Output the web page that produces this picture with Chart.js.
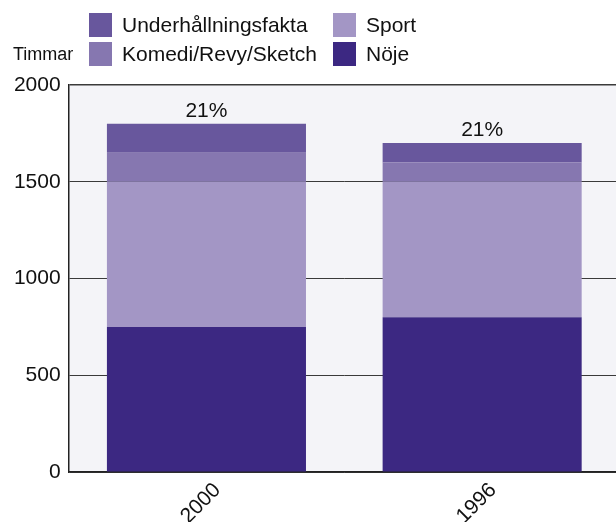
<!DOCTYPE html>
<html lang="sv">
<head>
<meta charset="utf-8">
<script src="https://cdn.jsdelivr.net/npm/chart.js@4/dist/chart.umd.min.js"></script>
<style>
    html, body { margin: 0; padding: 0; background: #fff; overflow: hidden; }
    #wrap { position: relative; width: 616px; height: 522px; overflow: hidden; font-family: "Liberation Sans", Arial, sans-serif; color: #111; }
    #chart { position: absolute; left: 0; top: 0; }
    #unit { position: absolute; left: 13px; top: 44px; font-size: 18px; }
    #legend { position: absolute; left: 89px; top: 13px; display: grid; grid-template-columns: 244px auto; grid-template-rows: 29px 29px; grid-auto-flow: column; }
    .item { display: flex; align-items: flex-start; font-size: 21px; }
    .box { width: 23px; height: 24px; margin-right: 10px; flex: none; }
    .item span { line-height: 24px; }
</style>
</head>
<body>
<div id="wrap">
    <canvas id="chart" width="620" height="522"></canvas>
    <div id="unit">Timmar</div>
    <div id="legend"></div>
</div>
<script>
// Timmar per år, staplat nerifrån och upp
const years = ['2000', '1996'];
const noje = [750, 800];
const sport = [750, 700];
const komedi = [150, 100];
const underhallning = [150, 100];
const shareLabels = ['21%', '21%'];
const yTicks = [0, 500, 1000, 1500, 2000];

const seriesNames = ['Nöje', 'Sport', 'Komedi/Revy/Sketch', 'Underhållningsfakta'];
const seriesColors = ['#3c2882', '#a396c5', '#8677b0', '#68579d'];
const seriesData = [noje, sport, komedi, underhallning];

const FONT = '"Liberation Sans", Arial, sans-serif';

// Grå bakgrund i plotytan
const plotBackground = {
    id: 'plotBackground',
    beforeDraw(chart) {
        const { ctx, chartArea: a } = chart;
        ctx.save();
        ctx.fillStyle = '#f4f4f8';
        ctx.fillRect(a.left, a.top, a.right - a.left, a.bottom - a.top);
        ctx.restore();
    }
};

// Procenttext ovanför varje stapel
const shareText = {
    id: 'shareText',
    afterDatasetsDraw(chart) {
        const { ctx } = chart;
        const meta = chart.getDatasetMeta(chart.data.datasets.length - 1);
        ctx.save();
        ctx.font = '21px ' + FONT;
        ctx.fillStyle = '#111';
        ctx.textAlign = 'center';
        ctx.textBaseline = 'alphabetic';
        meta.data.forEach((bar, i) => {
            ctx.fillText(shareLabels[i], bar.x, bar.y - 7);
        });
        ctx.restore();
    }
};

const datasets = seriesNames.map((name, i) => ({
    label: name,
    data: seriesData[i],
    backgroundColor: seriesColors[i],
    borderWidth: 0,
    categoryPercentage: 1,
    barPercentage: 0.722
}));

const chart = new Chart(document.getElementById('chart'), {
    type: 'bar',
    data: { labels: years, datasets: datasets },
    plugins: [plotBackground, shareText],
    options: {
        responsive: false,
        animation: false,
        layout: { padding: { top: 85, left: 0, right: 0, bottom: 0 } },
        plugins: {
            legend: { display: false },
            tooltip: { enabled: false }
        },
        scales: {
            x: {
                stacked: true,
                grid: { display: false, drawTicks: false },
                border: { color: '#222', width: 1.5 },
                ticks: {
                    color: '#111',
                    font: { family: FONT, size: 21 },
                    minRotation: 45,
                    maxRotation: 45,
                    padding: 6,
                    labelOffset: 11
                },
                afterFit(scale) { scale.height = 50; }
            },
            y: {
                stacked: true,
                min: 0,
                max: 2000,
                afterBuildTicks(scale) { scale.ticks = yTicks.map(v => ({ value: v })); },
                grid: {
                    drawTicks: false,
                    color: '#3a3a3a',
                    lineWidth: ctx => (ctx.tick && ctx.tick.value === 2000 ? 1.5 : 1)
                },
                border: { color: '#222', width: 1.5 },
                ticks: {
                    color: '#111',
                    font: { family: FONT, size: 21 },
                    padding: 8,
                    callback: v => String(v)
                },
                afterFit(scale) { scale.width = 68.6; }
            }
        }
    }
});

// Förklaring i två kolumner, översta serien först
const legend = document.getElementById('legend');
chart.data.datasets.slice().reverse().forEach(ds => {
    const item = document.createElement('div');
    item.className = 'item';
    item.innerHTML = `<div class="box" style="background:${ds.backgroundColor}"></div><span>${ds.label}</span>`;
    legend.appendChild(item);
});
</script>
</body>
</html>
